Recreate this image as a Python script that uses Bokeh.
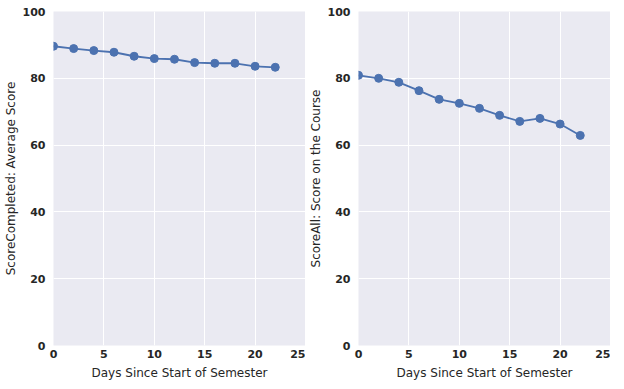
from bokeh.plotting import figure
from bokeh.layouts import row
from bokeh.models import Range1d, FixedTicker
from bokeh.embed import file_html
from bokeh.resources import INLINE

days = [0, 2, 4, 6, 8, 10, 12, 14, 16, 18, 20, 22]
score_completed = [89.6, 88.9, 88.3, 87.8, 86.6, 85.9, 85.7, 84.7, 84.5, 84.5, 83.6, 83.3]
score_all = [80.9, 80.0, 78.8, 76.3, 73.7, 72.5, 71.0, 68.9, 67.1, 68.0, 66.3, 62.9]
x_ticks = [0, 5, 10, 15, 20, 25]
y_ticks = [0, 20, 40, 60, 80, 100]
x_label = "Days Since Start of Semester"
y_labels = ["ScoreCompleted: Average Score", "ScoreAll: Score on the Course"]

COLOR = "#4C72B0"
FONT = "DejaVu Sans"


def make(ys, ylabel, left):
    p = figure(frame_width=252, frame_height=334, output_backend="svg", toolbar_location=None,
               x_range=Range1d(0, 25), y_range=Range1d(0, 100),
               min_border_left=left, min_border_right=0, min_border_top=11, min_border_bottom=39)
    p.background_fill_color = "#EAEAF2"
    p.border_fill_color = "white"
    p.outline_line_color = None
    p.line(days, ys, line_color=COLOR, line_width=1.8)
    p.scatter(days, ys, size=8, fill_color=COLOR, line_color=COLOR)
    for ax, ticks in ((p.xaxis[0], x_ticks), (p.yaxis[0], y_ticks)):
        ax.ticker = FixedTicker(ticks=ticks)
        ax.axis_line_color = None
        ax.major_tick_line_color = None
        ax.minor_tick_line_color = None
        ax.major_tick_out = 0
        ax.major_tick_in = 0
        ax.minor_tick_out = 0
        ax.minor_tick_in = 0
        ax.major_label_text_font = FONT
        ax.major_label_text_font_style = "bold"
        ax.major_label_text_font_size = "11px"
        ax.major_label_text_color = "#262626"
        ax.axis_label_text_font = FONT
        ax.axis_label_text_font_style = "normal"
        ax.axis_label_text_font_size = "12px"
        ax.axis_label_text_color = "#262626"
    p.xaxis.axis_label = x_label
    p.yaxis.axis_label = ylabel
    p.xaxis.major_label_standoff = 4
    p.yaxis.major_label_standoff = 8
    p.xaxis.axis_label_standoff = 5
    p.yaxis.axis_label_standoff = 2
    p.xgrid.ticker = FixedTicker(ticks=x_ticks)
    p.ygrid.ticker = FixedTicker(ticks=y_ticks)
    p.grid.grid_line_color = "white"
    p.grid.grid_line_width = 1
    return p


p1 = make(score_completed, y_labels[0], 46)
p2 = make(score_all, y_labels[1], 44)
layout = row(p1, p2)

open("out.html", "w").write(file_html(layout, INLINE))
